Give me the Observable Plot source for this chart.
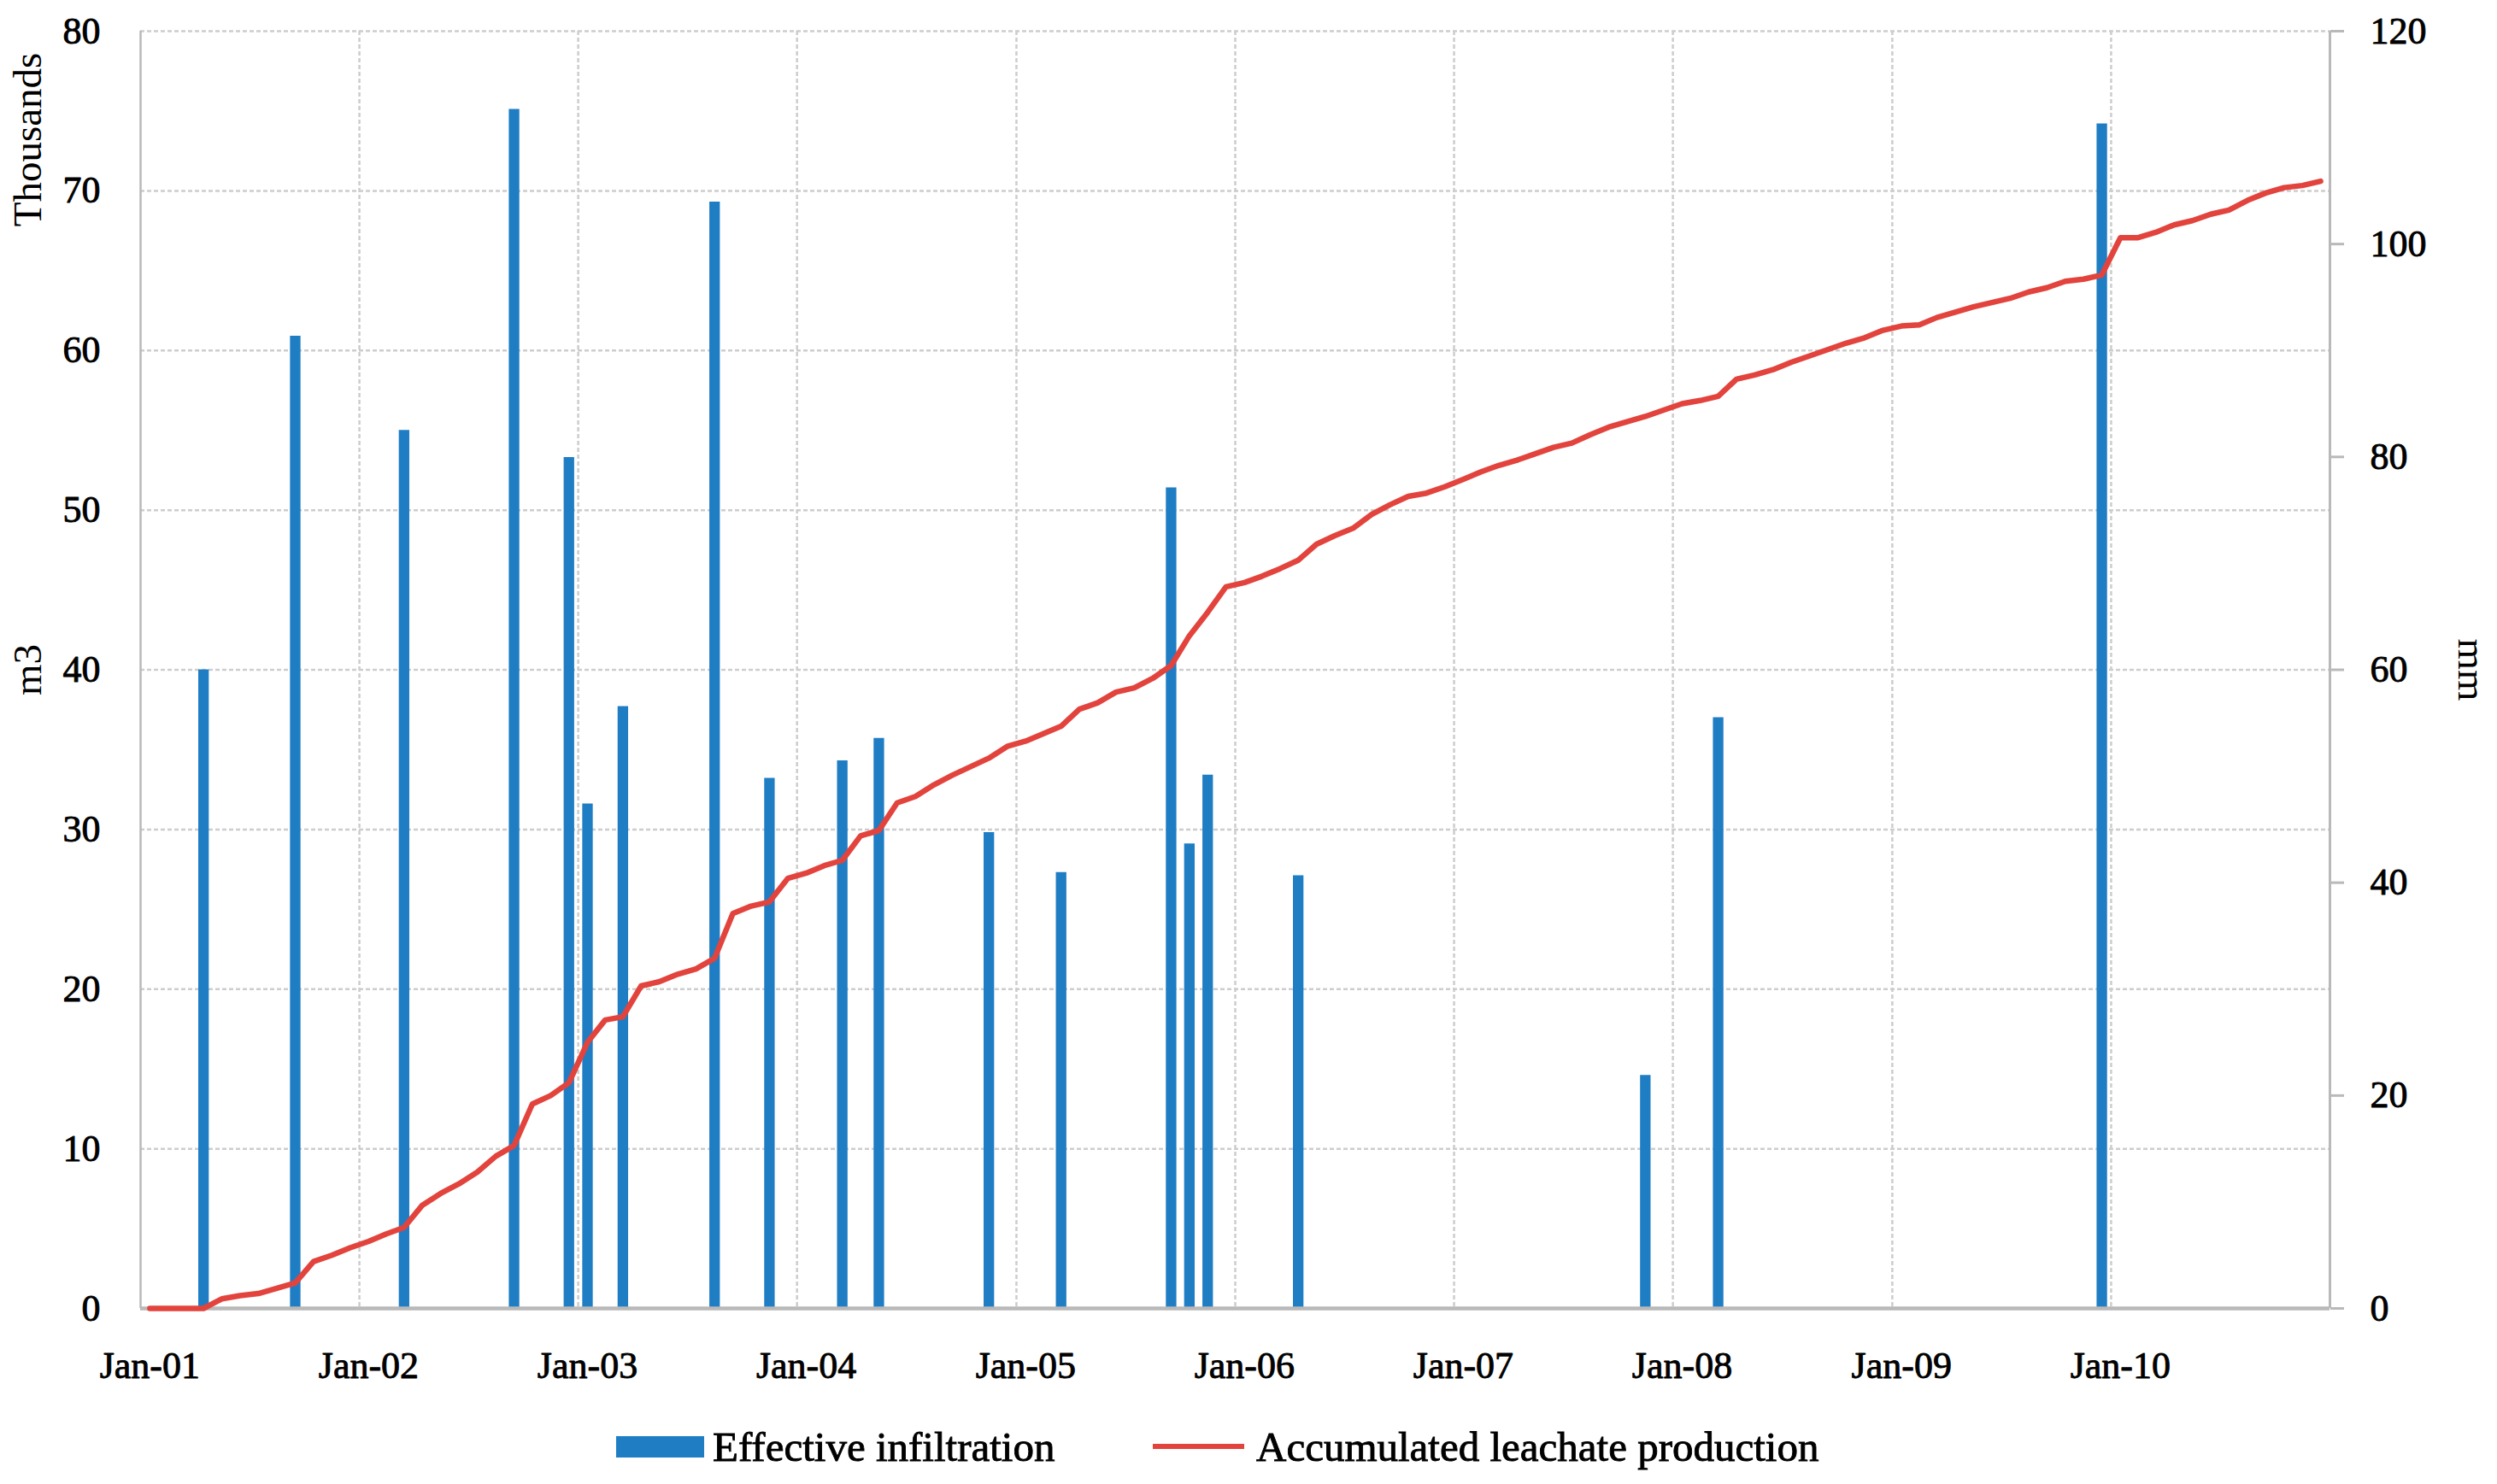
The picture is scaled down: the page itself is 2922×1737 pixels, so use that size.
<!DOCTYPE html>
<html>
<head>
<meta charset="utf-8">
<script src="https://cdn.jsdelivr.net/npm/d3@7"></script>
<script src="https://cdn.jsdelivr.net/npm/@observablehq/plot@0.6"></script>
<style>
html, body { margin: 0; padding: 0; background: #fff; }
#wrap { position: relative; width: 2922px; height: 1737px; font-family: "Liberation Serif", serif; color: #000; }
#chart svg { display: block; }
.lg { position: absolute; }
.lgtext { position: absolute; font-size: 49px; line-height: 1; white-space: nowrap; transform: translateY(-50%); -webkit-text-stroke: 0.9px #000; }
</style>
</head>
<body>
<div id="wrap"><div id="chart"></div></div>
<script>
// ---------------- data ----------------
const startYear = 2001;
// accumulated leachate production (mm), monthly, Jan 2001 .. Dec 2010
const leachateMm = [
  0, 0, 0, 0, 0.9, 1.2, 1.4, 1.9, 2.4, 4.4, 5.0, 5.7,
  6.3, 7.0, 7.6, 9.7, 10.8, 11.7, 12.8, 14.3, 15.3, 19.2, 20.0, 21.2,
  25.0, 27.1, 27.4, 30.3, 30.7, 31.4, 31.9, 32.9, 37.1, 37.8, 38.2, 40.4,
  40.9, 41.6, 42.1, 44.4, 44.9, 47.5, 48.1, 49.2, 50.1, 50.9, 51.7, 52.8,
  53.3, 54.0, 54.7, 56.3, 56.9, 57.9, 58.3, 59.2, 60.4, 63.2, 65.4, 67.8,
  68.2, 68.8, 69.5, 70.3, 71.8, 72.6, 73.3, 74.6, 75.5, 76.3, 76.6, 77.2,
  77.9, 78.6, 79.2, 79.7, 80.3, 80.9, 81.3, 82.1, 82.8, 83.3, 83.8, 84.4,
  85.0, 85.3, 85.7, 87.3, 87.7, 88.2, 88.9, 89.5, 90.1, 90.7, 91.2, 91.9,
  92.3, 92.4, 93.1, 93.6, 94.1, 94.5, 94.9, 95.5, 95.9, 96.5, 96.7, 97.1,
  100.6, 100.6, 101.1, 101.8, 102.2, 102.8, 103.2, 104.1, 104.8, 105.3, 105.5, 105.9
];
// effective infiltration (thousands m3)
const infiltrationMonths = [
  "2001-04", "2001-09", "2002-03", "2002-09", "2002-12", "2003-01", "2003-03",
  "2003-08", "2003-11", "2004-03", "2004-05", "2004-11", "2005-03", "2005-09",
  "2005-10", "2005-11", "2006-04", "2007-11", "2008-03", "2009-12"
];
const infiltrationThousands = [
  40.0, 60.9, 55.0, 75.1, 53.3, 31.6, 37.7,
  69.3, 33.2, 34.3, 35.7, 29.8, 27.3, 51.4,
  29.1, 33.4, 27.1, 14.6, 37.0, 74.2
];
const yearTickLabels = ["Jan-01", "Jan-02", "Jan-03", "Jan-04", "Jan-05", "Jan-06", "Jan-07", "Jan-08", "Jan-09", "Jan-10"];
const leftTicks = [0, 10, 20, 30, 40, 50, 60, 70, 80];
const rightTicks = [0, 20, 40, 60, 80, 100, 120];
const seriesNames = ["Effective infiltration", "Accumulated leachate production"];
const leftTitle = "m3";
const leftUnits = "Thousands";
const rightTitle = "mm";

// ---------------- styles ----------------
const BLUE = "#1f7dc4";
const RED = "#e2443d";
const GRID = "#cdcdcd";
const AXIS = "#b9b9b9";
const TXT = { textStroke: "#000", textStrokeWidth: 0.9, textStrokeOpacity: 1 };
const LEFT_MAX = 80, RIGHT_MAX = 120;
const toLeft = v => v * LEFT_MAX / RIGHT_MAX;

const midMonth = (y, m) => new Date((Date.UTC(y, m) + Date.UTC(y, m + 1)) / 2);

const lineData = leachateMm.map((v, i) => ({ date: midMonth(startYear, i), y: toLeft(v) }));
const barData = infiltrationMonths.map((s, k) => {
  const [y, m] = s.split("-").map(Number);
  return { date: midMonth(y, m - 1), v: infiltrationThousands[k] };
});
const nYears = yearTickLabels.length;
const xStart = new Date(Date.UTC(startYear, 0, 1));
const xEnd = new Date(Date.UTC(startYear + nYears, 0, 1));
const labelDates = yearTickLabels.map((_, k) => midMonth(startYear + k, 0));
const gridDates = yearTickLabels.slice(1).map((_, k) => new Date(Date.UTC(startYear + k + 1, 0, 1)));

const chart = Plot.plot({
  width: 2922,
  height: 1650,
  marginTop: 36,
  marginBottom: 119,
  marginLeft: 164,
  marginRight: 196,
  style: { fontFamily: '"Liberation Serif", serif', fontSize: "44px", color: "#000", background: "#fff", overflow: "visible" },
  x: { type: "utc", domain: [xStart, xEnd] },
  y: { domain: [0, LEFT_MAX] },
  marks: [
    Plot.gridY(leftTicks.filter(d => d > 0), { stroke: GRID, strokeOpacity: 1, strokeWidth: 2.5, strokeDasharray: "5,3" }),
    Plot.gridX(gridDates, { stroke: GRID, strokeOpacity: 1, strokeWidth: 2.5, strokeDasharray: "5,3" }),
    Plot.ruleX([xStart], { stroke: AXIS, strokeWidth: 2.5 }),
    Plot.ruleX([xEnd], { stroke: AXIS, strokeWidth: 3 }),
    Plot.ruleX(barData, { x: "date", y1: 0, y2: "v", stroke: BLUE, strokeWidth: 12.3 }),
    Plot.ruleY([0], { stroke: AXIS, strokeWidth: 4.5 }),
    Plot.line(lineData, { x: "date", y: "y", stroke: RED, strokeWidth: 6.5, strokeLinejoin: "round", strokeLinecap: "round" }),
    Plot.axisY(leftTicks, { anchor: "left", tickSize: 0, tickPadding: 47, label: null, ...TXT }),
    Plot.axisY(rightTicks.map(toLeft), {
      anchor: "right", tickSize: 16, tickPadding: 31, stroke: AXIS, strokeWidth: 3,
      tickFormat: d => String(Math.round(d * RIGHT_MAX / LEFT_MAX)), label: null, ...TXT
    }),
    Plot.axisX(labelDates, {
      anchor: "bottom", tickSize: 0, tickPadding: 50,
      tickFormat: d => yearTickLabels[d.getUTCFullYear() - startYear], label: null, ...TXT
    }),
    Plot.text([leftTitle], { frameAnchor: "left", dx: -132, rotate: -90, fontSize: 47, textAnchor: "middle", lineAnchor: "middle", ...TXT }),
    Plot.text([leftUnits], { frameAnchor: "top-left", dx: -132, dy: 127, rotate: -90, fontSize: 47, textAnchor: "middle", lineAnchor: "middle", ...TXT }),
    Plot.text([rightTitle], { frameAnchor: "right", dx: 166, rotate: 90, fontSize: 47, textAnchor: "middle", lineAnchor: "middle", ...TXT })
  ]
});
document.getElementById("chart").appendChild(chart);

// ---------------- legend (below the svg) ----------------
const wrap = document.getElementById("wrap");
const legendY = 1693;
function addSwatch(left, top, w, h, color) {
  const d = document.createElement("div");
  d.className = "lg";
  Object.assign(d.style, { left: left + "px", top: top + "px", width: w + "px", height: h + "px", background: color });
  wrap.appendChild(d);
}
function addText(left, text) {
  const t = document.createElement("div");
  t.className = "lgtext";
  t.textContent = text;
  Object.assign(t.style, { left: left + "px", top: legendY + "px" });
  wrap.appendChild(t);
}
addSwatch(721, legendY - 12, 103, 25, BLUE);
addText(834, seriesNames[0]);
addSwatch(1349, legendY - 3, 107, 6, RED);
addText(1470, seriesNames[1]);
</script>
</body>
</html>
